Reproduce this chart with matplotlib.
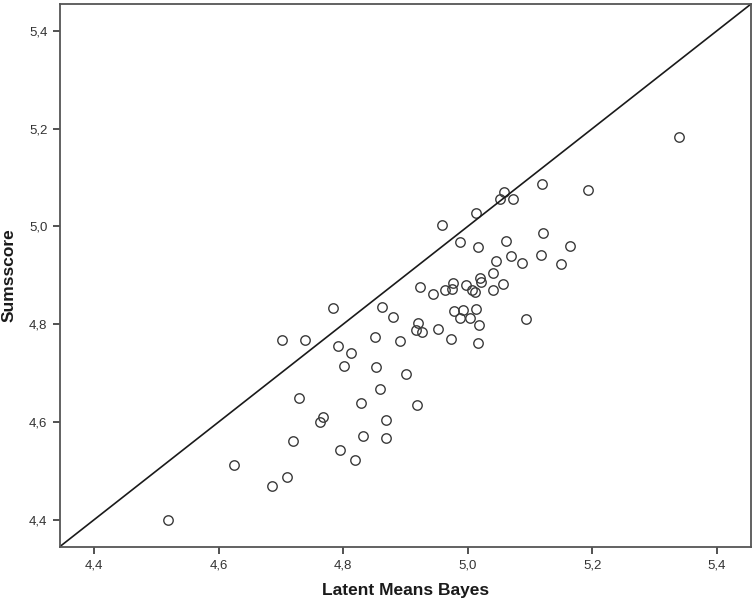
import matplotlib
matplotlib.use("Agg")
import matplotlib.pyplot as plt
from matplotlib.ticker import FuncFormatter

# Latent Means Bayes (x) och Sumsscore (y)
latent = [4.519, 4.624, 4.686, 4.710, 4.720, 4.729, 4.767, 4.763, 4.795, 4.819,
          4.829, 4.831, 5.120, 5.058, 5.052, 5.073, 5.014, 4.958, 5.121, 4.987,
          5.062, 5.016, 5.045, 5.070, 5.087, 5.117, 5.150, 5.165, 5.041, 5.020,
          5.021, 4.976, 4.997, 4.924, 4.944, 4.964, 4.974, 5.007, 5.011, 5.041,
          5.056, 4.783, 4.863, 4.880, 4.978, 4.993, 5.013, 4.988, 5.003, 4.920,
          4.917, 4.927, 4.953, 5.018, 5.094, 4.701, 4.739, 4.791, 4.813, 4.851,
          4.891, 4.973, 5.017, 5.339, 5.193, 4.801, 4.853, 4.900, 4.859, 4.918,
          4.869, 4.868]
sums = [4.400, 4.511, 4.469, 4.487, 4.560, 4.648, 4.610, 4.600, 4.542, 4.521,
        4.638, 4.572, 5.087, 5.070, 5.056, 5.056, 5.027, 5.003, 4.986, 4.968,
        4.971, 4.958, 4.930, 4.939, 4.926, 4.942, 4.923, 4.960, 4.904, 4.894,
        4.887, 4.885, 4.881, 4.875, 4.862, 4.870, 4.871, 4.870, 4.865, 4.870,
        4.882, 4.833, 4.835, 4.814, 4.827, 4.829, 4.830, 4.812, 4.812, 4.802,
        4.788, 4.783, 4.790, 4.798, 4.811, 4.767, 4.768, 4.756, 4.741, 4.773,
        4.766, 4.770, 4.761, 5.182, 5.075, 4.714, 4.712, 4.697, 4.667, 4.634,
        4.603, 4.568]

ticks = [4.4, 4.6, 4.8, 5.0, 5.2, 5.4]
lims = (4.345, 5.455)

fig = plt.figure(figsize=(7.56, 6.07), dpi=100)
ax = fig.add_axes([60 / 756, 60.5 / 607, 691 / 756, 542.5 / 607])

# punkter som öppna cirklar
ax.plot(latent, sums, linestyle="none", marker="o", markersize=6.8,
        markerfacecolor="none", markeredgecolor="#3a3a3a", markeredgewidth=1.0)

# diagonal y = x
ax.axline((4.4, 4.4), (5.4, 5.4), color="#1a1a1a", linewidth=1.2)

ax.set_xlim(lims)
ax.set_ylim(lims)
ax.set_xticks(ticks)
ax.set_yticks(ticks)

# decimalkomma
komma = FuncFormatter(lambda v, p: f"{v:.1f}".replace(".", ","))
ax.xaxis.set_major_formatter(komma)
ax.yaxis.set_major_formatter(komma)

for s in ax.spines.values():
    s.set_color("#555555")
    s.set_linewidth(1.3)

ax.tick_params(direction="out", length=5, width=1.2, color="#333333",
               labelsize=9.5, labelcolor="#333333", pad=4)
for lab in ax.get_xticklabels() + ax.get_yticklabels():
    lab.set_family("Liberation Sans")

ax.set_xlabel("Latent Means Bayes", fontsize=12.5, fontweight="bold",
              family="Liberation Sans", color="#1a1a1a", labelpad=9)
ax.set_ylabel("Sumsscore", fontsize=12.5, fontweight="bold",
              family="Liberation Sans", color="#1a1a1a", labelpad=9)

fig.savefig("out.png", dpi=100)
